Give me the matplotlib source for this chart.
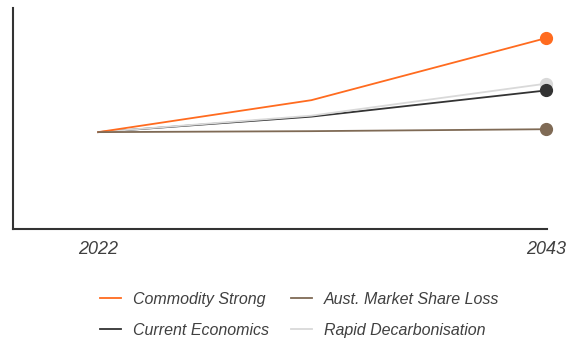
import matplotlib
matplotlib.use("Agg")
import matplotlib.pyplot as plt

plt.rcParams['font.family'] = ['Liberation Sans', 'DejaVu Sans']

# scenario index, 2022 = 100
years = [2022, 2032, 2043]
commodity_strong = [100, 133, 197]
aust_market_share_loss = [100, 101, 103]
current_economics = [100, 116, 143]
rapid_decarbonisation = [100, 117, 150]

series = [
    ("Current Economics", current_economics, "#333333", 4),
    ("Rapid Decarbonisation", rapid_decarbonisation, "#d9d9d9", 3),
    ("Commodity Strong", commodity_strong, "#ff6b1f", 5),
    ("Aust. Market Share Loss", aust_market_share_loss, "#7f6a55", 6),
]
# legend fills column by column
legend_order = ["Commodity Strong", "Current Economics",
                "Aust. Market Share Loss", "Rapid Decarbonisation"]

fig = plt.figure(figsize=(5.69, 3.39), dpi=100)
ax = fig.add_axes([0.0228, 0.3245, 0.9385, 0.6515])

handles = {}
for name, vals, col, z in series:
    ln, = ax.plot(years, vals, color=col, lw=1.3, label=name, clip_on=False, zorder=2)
    # end-point dots, dark one sits over the light one
    ax.plot(years[-1], vals[-1], 'o', color=col, ms=8.5, clip_on=False, zorder=z)
    handles[name] = ln

ax.set_xlim(2018, 2043.05)
ax.set_ylim(0, 228)
ax.set_xticks([2022, 2043])
ax.set_xticklabels(["2022", "2043"], fontstyle='italic', fontsize=13, color='#404040')
ax.tick_params(axis='x', length=0, pad=9)
ax.set_yticks([])
for s in ['top', 'right']:
    ax.spines[s].set_visible(False)
for s in ['left', 'bottom']:
    ax.spines[s].set_color('#333333')
    ax.spines[s].set_linewidth(1.5)

leg = fig.legend([handles[n] for n in legend_order], legend_order, ncol=2,
                 loc='upper left', bbox_to_anchor=(0.176, 0.14), frameon=False,
                 prop={'size': 11.5, 'style': 'italic'}, handlelength=1.3,
                 handletextpad=0.75, columnspacing=1.4, labelspacing=1.0,
                 borderaxespad=0, borderpad=0)
for t in leg.get_texts():
    t.set_color('#404040')

fig.savefig("out.png", dpi=100)
